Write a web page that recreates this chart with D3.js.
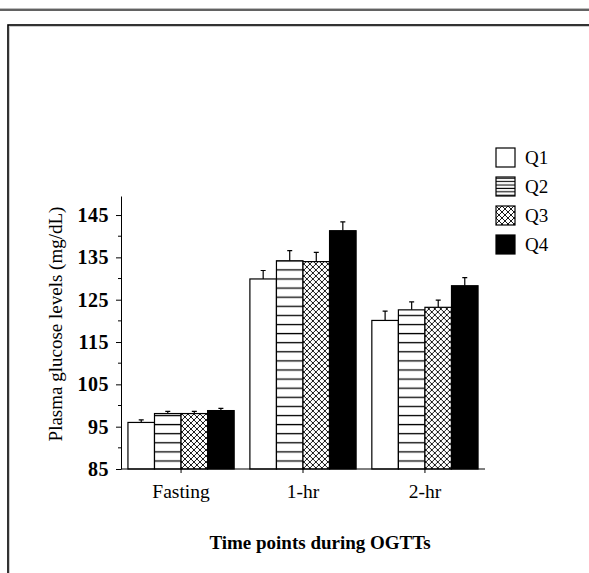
<!DOCTYPE html>
<html>
<head>
<meta charset="utf-8">
<script src="https://cdn.jsdelivr.net/npm/d3@7"></script>
<style>
  body { margin: 0; background: #fff; overflow: hidden; }
  svg { display: block; }
  svg text { font-family: "Liberation Serif", "Times New Roman", serif; fill: #000; }
  .axis path, .axis line { stroke: #000; }
</style>
</head>
<body>
<div class="visualization"></div>
<script>
const timePoints = ["Fasting", "1-hr", "2-hr"];
const quartiles = ["Q1", "Q2", "Q3", "Q4"];
// mean glucose per quartile, one array per time point
const meanFasting = [96.0, 98.1, 98.1, 98.8];
const mean1hr = [129.9, 134.2, 134.0, 141.3];
const mean2hr = [120.1, 122.6, 123.2, 128.3];
// upper error bar (SE)
const errFasting = [0.6, 0.5, 0.5, 0.5];
const err1hr = [2.0, 2.4, 2.2, 2.1];
const err2hr = [2.2, 1.9, 1.7, 1.9];
const majorTicks = [85, 95, 105, 115, 125, 135, 145];
const minorTicks = [90, 100, 110, 120, 130, 140];

const means = [meanFasting, mean1hr, mean2hr];
const errs = [errFasting, err1hr, err2hr];
const data = [];
timePoints.forEach((t, i) => {
  quartiles.forEach((q, j) => {
    data.push({ time: t, q: q, value: means[i][j], err: errs[i][j] });
  });
});

const width = 589, height = 573;
const margin = { left: 121, right: 104, top: 196, bottom: 104 };

const svg = d3.select(".visualization").append("svg")
  .attr("width", width)
  .attr("height", height);

// patterns
const defs = svg.append("defs");
const hLines = defs.append("pattern")
  .attr("id", "hlines")
  .attr("patternUnits", "userSpaceOnUse")
  .attr("width", 10).attr("height", 9.1);
hLines.append("rect").attr("width", 10).attr("height", 9.1).attr("fill", "#fff");
hLines.append("line").attr("x1", 0).attr("x2", 10).attr("y1", 6).attr("y2", 6)
  .attr("stroke", "#000").attr("stroke-width", 1.3);

const hLinesSmall = defs.append("pattern")
  .attr("id", "hlines-small")
  .attr("patternUnits", "userSpaceOnUse")
  .attr("width", 10).attr("height", 3.4);
hLinesSmall.append("rect").attr("width", 10).attr("height", 3.4).attr("fill", "#fff");
hLinesSmall.append("line").attr("x1", 0).attr("x2", 10).attr("y1", 1.2).attr("y2", 1.2)
  .attr("stroke", "#000").attr("stroke-width", 1.1);

const cross = defs.append("pattern")
  .attr("id", "cross")
  .attr("patternUnits", "userSpaceOnUse")
  .attr("width", 6).attr("height", 6);
cross.append("rect").attr("width", 6).attr("height", 6).attr("fill", "#fff");
cross.append("path").attr("d", "M0,0L6,6M6,0L0,6M-1,5L1,7M5,-1L7,1M-1,1L1,-1M5,7L7,5")
  .attr("stroke", "#000").attr("stroke-width", 0.9);

const fills = { Q1: "#fff", Q2: "url(#hlines)", Q3: "url(#cross)", Q4: "#000" };
const legendFills = { Q1: "#fff", Q2: "url(#hlines-small)", Q3: "url(#cross)", Q4: "#000" };

// page frame
svg.append("line").attr("x1", 0).attr("x2", width).attr("y1", 9.5).attr("y2", 9.5)
  .attr("stroke", "#bbb").attr("stroke-width", 3);
svg.append("line").attr("x1", 0).attr("x2", width).attr("y1", 10).attr("y2", 10)
  .attr("stroke", "#444").attr("stroke-width", 1.5);
svg.append("rect").attr("x", 8).attr("y", 25).attr("width", 700).attr("height", 700)
  .attr("fill", "none").attr("stroke", "#000").attr("stroke-width", 1.6);
svg.append("rect").attr("x", 9.5).attr("y", 26.5).attr("width", 700).attr("height", 700)
  .attr("fill", "none").attr("stroke", "#ccc").attr("stroke-width", 1);

// scales
const x0 = d3.scaleBand()
  .domain(timePoints)
  .range([margin.left, width - margin.right])
  .paddingInner(0.129)
  .paddingOuter(0.057);

const x1 = d3.scaleBand()
  .domain(quartiles)
  .range([0, x0.bandwidth()]);

const y = d3.scaleLinear()
  .domain([85, 149.5])
  .range([height - margin.bottom, margin.top]);

// y axis
const yAxis = d3.axisLeft(y).tickValues(majorTicks).tickSize(5).tickPadding(7).tickSizeOuter(0);
const yAxisGroup = svg.append("g")
  .attr("class", "axis")
  .attr("transform", `translate(${margin.left},0)`)
  .call(yAxis);
yAxisGroup.selectAll("text")
  .style("font-size", "20px")
  .style("font-weight", "bold")
  .style("letter-spacing", "0.5px");

yAxisGroup.selectAll(".minor")
  .data(minorTicks)
  .enter().append("line")
  .attr("class", "minor")
  .attr("x1", -3).attr("x2", 0)
  .attr("y1", d => y(d)).attr("y2", d => y(d))
  .attr("stroke", "#000");

// bars
const groups = svg.append("g")
  .selectAll("g")
  .data(timePoints)
  .enter().append("g")
  .attr("transform", d => `translate(${x0(d)},0)`);

groups.selectAll(".bar")
  .data(t => data.filter(d => d.time === t))
  .enter().append("rect")
  .attr("class", "bar")
  .attr("x", d => x1(d.q))
  .attr("y", d => y(d.value))
  .attr("width", x1.bandwidth())
  .attr("height", d => y(85) - y(d.value))
  .attr("fill", d => fills[d.q])
  .attr("stroke", "#000")
  .attr("stroke-width", 1.2);

// error bars (upper only)
groups.selectAll(".err")
  .data(t => data.filter(d => d.time === t))
  .enter().append("path")
  .attr("class", "err")
  .attr("d", d => {
    let cx = x1(d.q) + x1.bandwidth() / 2;
    return `M${cx},${y(d.value)}V${y(d.value + d.err)}M${cx - 2.5},${y(d.value + d.err)}H${cx + 2.5}`;
  })
  .attr("fill", "none")
  .attr("stroke", "#000")
  .attr("stroke-width", 1.2);

// x axis
const xAxis = d3.axisBottom(x0).tickSize(4).tickPadding(11).tickSizeOuter(0);
const xAxisGroup = svg.append("g")
  .attr("class", "axis")
  .attr("transform", `translate(0,${y(85)})`)
  .call(xAxis);
xAxisGroup.select(".domain").attr("d", `M${margin.left},0H${width - margin.right}`);
xAxisGroup.selectAll("text").style("font-size", "19.5px");

// axis titles
svg.append("text")
  .attr("transform", `translate(62,324) rotate(-90)`)
  .attr("text-anchor", "middle")
  .style("font-size", "19px")
  .text("Plasma glucose levels (mg/dL)");

svg.append("text")
  .attr("x", 320)
  .attr("y", 549)
  .attr("text-anchor", "middle")
  .style("font-size", "19px")
  .style("font-weight", "bold")
  .text("Time points during OGTTs");

// legend
const legend = svg.append("g")
  .selectAll("g")
  .data(quartiles)
  .enter().append("g")
  .attr("transform", (d, i) => `translate(496,${148 + i * 29})`);

legend.append("rect")
  .attr("width", 19).attr("height", 19)
  .attr("fill", d => legendFills[d])
  .attr("stroke", "#000")
  .attr("stroke-width", 1.2);

legend.append("text")
  .attr("x", 29).attr("y", 16)
  .style("font-size", "19px")
  .text(d => d);
</script>
</body>
</html>
